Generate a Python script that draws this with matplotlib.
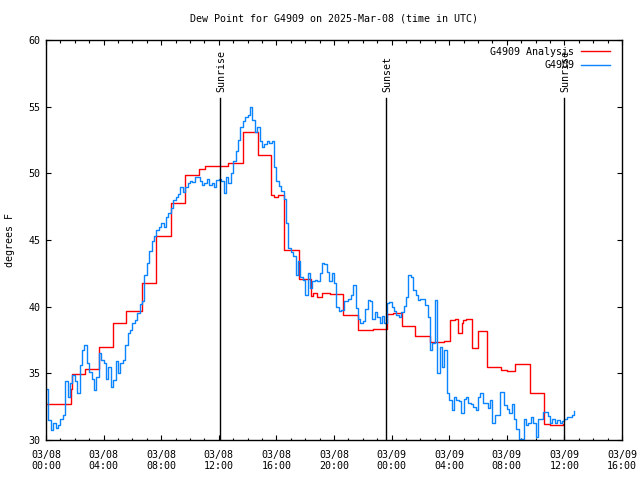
import numpy as np
import matplotlib
matplotlib.use("Agg")
import matplotlib.pyplot as plt
import matplotlib.dates as mdates
from datetime import datetime, timedelta

# observed dew point, one reading every 10 minutes from 03/08 00:00 UTC
obs_step_min = 10
obs_dewpoint = [
    33.8, 31.5, 30.75, 31.25, 30.9, 31.1, 31.6, 31.9, 34.4, 33.25,
    34.25, 34.9, 34.4, 33.5, 35.6, 36.75, 37.1, 35.75, 35.1, 34.6,
    33.75, 34.75, 36.5, 36.0, 35.75, 34.6, 35.5, 34.0, 34.5, 35.9,
    35.0, 35.75, 36.0, 37.1, 38.0, 38.25, 38.75, 39.0, 39.5, 40.2,
    40.45,
    42.4, 43.25, 44.2, 44.95, 45.3, 45.75, 45.95, 46.3, 46.0, 46.7,
    47.0, 47.4, 48.0, 48.2, 48.45, 48.95, 48.6, 49.0, 49.25, 49.4,
    49.35, 49.7, 49.75, 49.45, 49.1, 49.3, 49.55, 49.1, 49.3, 49.0,
    49.5, 49.6, 49.4, 48.5, 49.7, 49.25, 50.0, 50.9, 51.7, 52.5,
    53.45, 53.95, 54.25, 54.4, 55.0, 54.0, 53.1, 53.5, 52.4, 51.95,
    52.2, 52.45, 52.3, 52.4, 50.5, 49.4, 49.05, 48.7, 48.1, 46.25,
    44.4, 44.1, 43.8, 42.4, 43.4, 42.25, 42.0, 40.9, 42.55, 41.4,
    41.95, 42.0, 41.9, 42.55, 43.3, 43.2, 42.6, 41.9,
    42.5, 41.75, 39.95, 39.7, 39.75, 40.4, 40.4, 40.6, 40.9, 41.6,
    39.9, 39.05, 38.75, 38.9, 39.8, 40.5, 40.4, 39.1, 39.6, 39.2,
    38.75, 39.3, 38.75, 40.25, 40.35, 40.0, 39.7, 39.4, 39.25, 39.6,
    40.05, 40.75, 42.4, 42.25, 41.25, 40.9, 40.5,
    40.55, 40.55, 40.1, 39.25, 36.75, 37.25, 40.5, 35.0, 37.0, 35.5,
    36.75, 33.5, 33.0, 32.25, 33.25, 33.0, 32.9, 32.0, 33.1, 33.25,
    32.75, 32.7, 32.5, 32.25, 33.25, 33.5, 32.75, 32.75, 32.4, 33.0,
    31.25, 31.9, 31.9, 33.6, 33.6, 32.6, 32.3,
    32.05, 32.7, 31.6, 30.8, 30.1, 30.1, 31.6, 31.1, 31.25, 31.7,
    31.25, 30.25, 31.6, 31.6, 32.1, 32.1, 31.8, 31.25, 31.55, 31.3,
    31.5, 31.25, 31.4, 31.55, 31.7, 31.75, 31.9, 32.2,
]

# analysis: hours after 03/08 00:00 where each step starts, and its value
ana_hours = [0.0, 1.72, 1.78, 2.69, 3.68, 4.65, 5.58, 6.65, 7.66, 8.68,
             9.63, 10.65, 11.04, 12.66, 13.70, 14.72, 15.60, 15.83, 16.11, 16.56,
             17.59, 18.38, 18.56, 18.84, 19.15, 19.72, 20.65, 21.65, 22.69, 23.66,
             24.12, 24.70, 25.63, 26.67, 27.66, 28.06, 28.40, 28.63, 28.87, 28.98,
             29.17, 29.58, 29.98, 30.65, 31.58, 31.99, 32.57, 33.61, 34.60, 35.0,
             35.9]
ana_dewpoint = [32.7, 33.8, 34.95, 35.3, 36.95, 38.75, 39.65, 41.8, 45.3, 47.75,
                49.85, 50.3, 50.55, 50.8, 53.1, 51.35, 48.35, 48.2, 48.35, 44.25,
                42.1, 40.8, 41.0, 40.7, 41.05, 40.95, 39.35, 38.25, 38.35, 39.45,
                39.55, 38.55, 37.8, 37.35, 37.45, 39.0, 39.05, 38.0, 38.8, 39.0,
                39.05, 36.9, 38.2, 35.45, 35.25, 35.15, 35.7, 33.55, 31.2, 31.1,
                31.2]

sun_events = ["Sunrise", "Sunset", "Sunrise"]
sun_hours = [12.10, 23.62, 35.99]

start = datetime(2025, 3, 8, 0, 0)
obs_times = [start + timedelta(minutes=obs_step_min * i) for i in range(len(obs_dewpoint))]
ana_times = [start + timedelta(hours=h) for h in ana_hours]

plt.rcParams['font.family'] = ['DejaVu Sans Mono']
fs = 7.2

fig = plt.figure(figsize=(6.4, 4.8), dpi=100)
ax = fig.add_axes([46 / 640, 40 / 480, 576 / 640, 400 / 480])

ax.plot(ana_times, ana_dewpoint, drawstyle='steps-post', color='#ff0000', lw=1.0,
        label='G4909 Analysis')
ax.plot(obs_times, obs_dewpoint, drawstyle='steps-post', color='#0a84ff', lw=1.0,
        label='G4909')

for name, h in zip(sun_events, sun_hours):
    t = start + timedelta(hours=h)
    ax.plot([t, t], [30, 55.65], color='black', lw=1.0)
    ax.text(t + timedelta(hours=0.1), 56.1, name, rotation=90, ha='center', va='bottom',
            fontsize=fs)

ax.set_xlim(start, start + timedelta(hours=40))
ax.set_ylim(30, 60)
ax.set_yticks(np.arange(30, 61, 5))
ax.xaxis.set_major_locator(mdates.HourLocator(byhour=range(0, 24, 4)))
ax.xaxis.set_minor_locator(mdates.HourLocator())
ax.xaxis.set_major_formatter(mdates.DateFormatter('%m/%d\n%H:%M'))

ax.tick_params(which='both', direction='in', top=True, right=True, labelsize=fs)
ax.tick_params(which='major', length=3.6, width=0.8)
ax.tick_params(which='minor', length=1.8, width=0.8)
ax.tick_params(axis='x', pad=7)
ax.tick_params(axis='y', pad=4)
for s in ax.spines.values():
    s.set_linewidth(1.0)

ax.set_ylabel('degrees F', fontsize=fs, labelpad=10)
ax.set_title('Dew Point for G4909 on 2025-Mar-08 (time in UTC)', fontsize=fs, pad=13)

leg = ax.legend(loc='upper right', frameon=False, markerfirst=False, fontsize=fs,
                handlelength=2.9, handletextpad=0.7, labelspacing=0.35,
                borderaxespad=0.3, bbox_to_anchor=(0.992, 1.0))

fig.savefig('out.png', dpi=100)
